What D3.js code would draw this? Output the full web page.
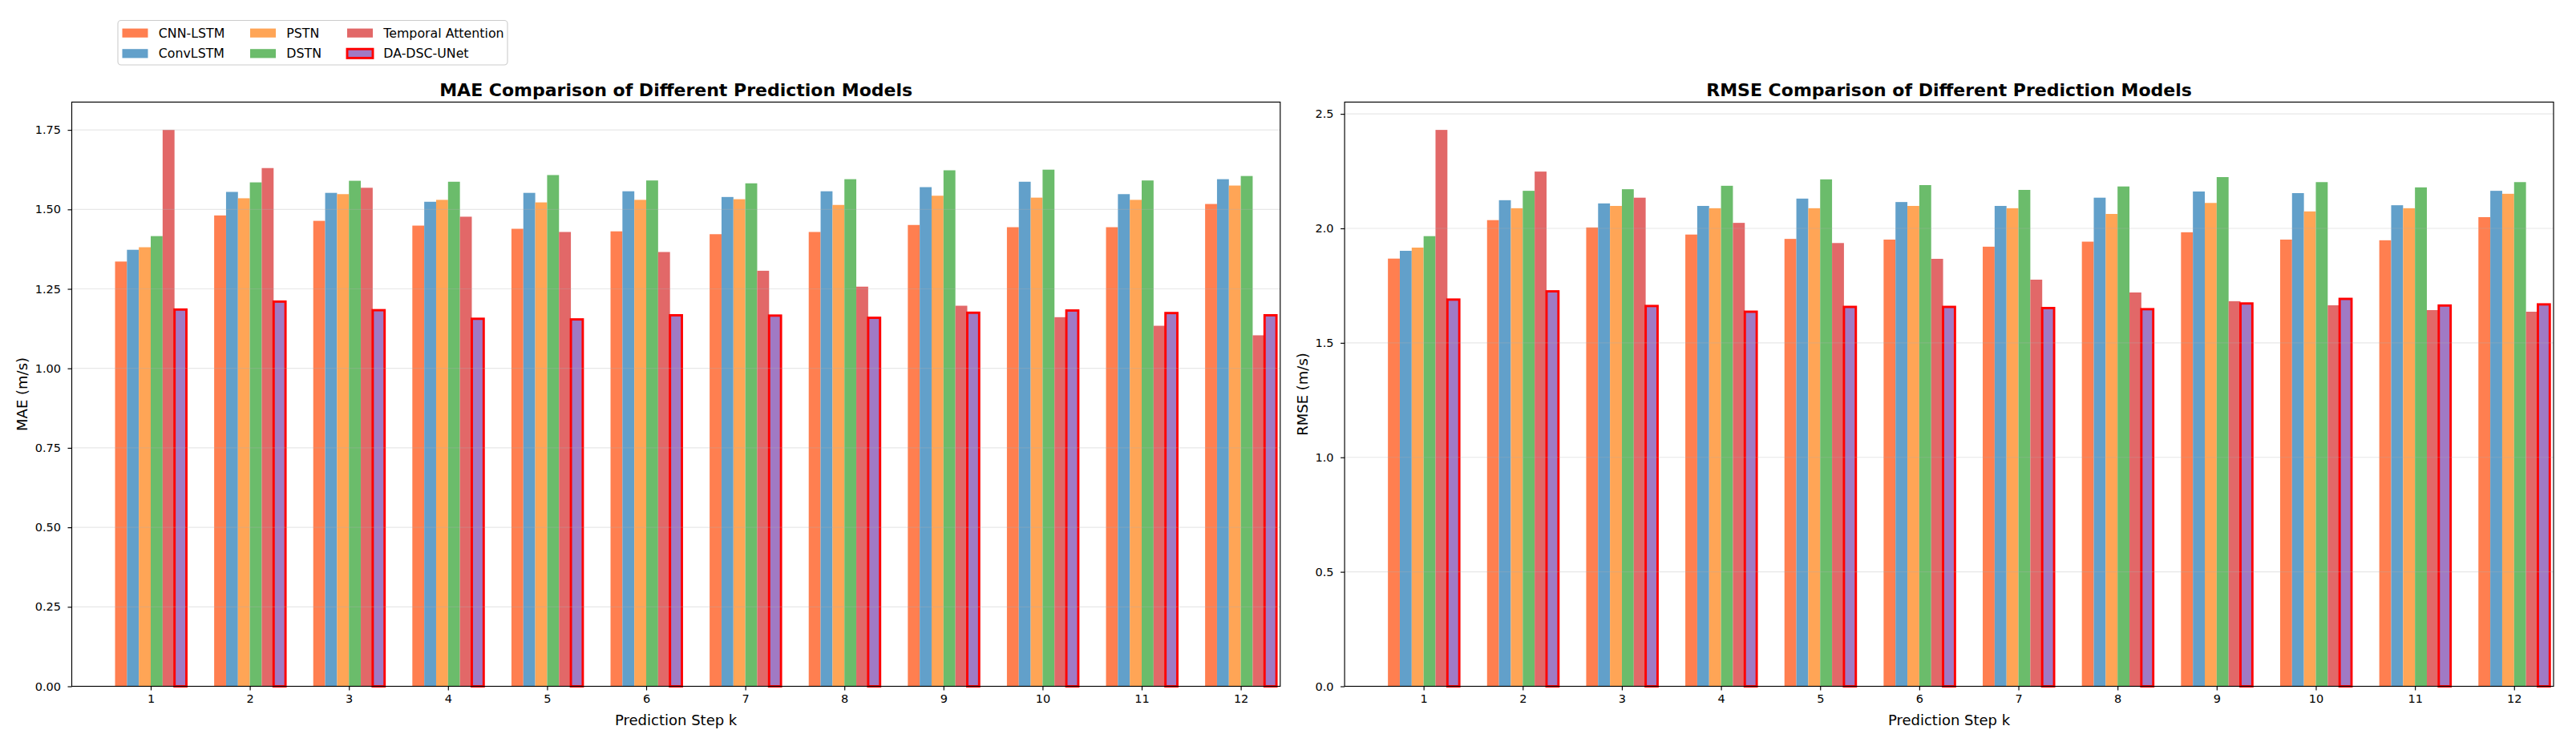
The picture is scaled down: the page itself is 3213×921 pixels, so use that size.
<!DOCTYPE html>
<html>
<head>
<meta charset="utf-8">
<script src="https://cdn.jsdelivr.net/npm/d3@7"></script>
<style>
  html, body { margin: 0; padding: 0; background: #ffffff; }
  svg { display: block; font-family: "DejaVu Sans", sans-serif; }
</style>
</head>
<body>
<svg id="chart" width="3213" height="921"></svg>
<script>
// ---------- data ----------
const steps = [1, 2, 3, 4, 5, 6, 7, 8, 9, 10, 11, 12];
const models = ["CNN-LSTM", "ConvLSTM", "PSTN", "DSTN", "Temporal Attention", "DA-DSC-UNet"];
const modelColors = ["#ff7f50", "#62a0ca", "#ffa556", "#6bbc6b", "#e26868", "#a07ac4"];

const maeCNNLSTM  = [1.336, 1.481, 1.464, 1.449, 1.439, 1.431, 1.422, 1.429, 1.451, 1.444, 1.444, 1.517];
const maeConvLSTM = [1.373, 1.555, 1.552, 1.524, 1.552, 1.557, 1.539, 1.557, 1.570, 1.587, 1.548, 1.595];
const maePSTN     = [1.381, 1.535, 1.548, 1.530, 1.522, 1.530, 1.532, 1.514, 1.543, 1.537, 1.530, 1.575];
const maeDSTN     = [1.416, 1.585, 1.590, 1.587, 1.608, 1.591, 1.582, 1.595, 1.623, 1.625, 1.591, 1.605];
const maeTempAtt  = [1.750, 1.630, 1.568, 1.477, 1.429, 1.366, 1.307, 1.257, 1.197, 1.161, 1.134, 1.104];
const maeDADSC    = [1.185, 1.210, 1.183, 1.156, 1.154, 1.167, 1.166, 1.159, 1.175, 1.182, 1.174, 1.167];

const rmseCNNLSTM  = [1.868, 2.036, 2.004, 1.973, 1.954, 1.951, 1.920, 1.942, 1.983, 1.951, 1.948, 2.049];
const rmseConvLSTM = [1.902, 2.123, 2.109, 2.098, 2.130, 2.115, 2.098, 2.134, 2.161, 2.154, 2.101, 2.164];
const rmsePSTN     = [1.916, 2.088, 2.098, 2.088, 2.088, 2.098, 2.088, 2.063, 2.111, 2.074, 2.088, 2.151];
const rmseDSTN     = [1.966, 2.164, 2.171, 2.186, 2.214, 2.189, 2.168, 2.183, 2.224, 2.202, 2.179, 2.202];
const rmseTempAtt  = [2.430, 2.248, 2.134, 2.024, 1.936, 1.867, 1.776, 1.720, 1.682, 1.664, 1.643, 1.636];
const rmseDADSC    = [1.689, 1.725, 1.661, 1.636, 1.657, 1.657, 1.652, 1.647, 1.672, 1.692, 1.663, 1.668];

const maeTicks  = [0, 0.25, 0.5, 0.75, 1.0, 1.25, 1.5, 1.75];
const rmseTicks = [0, 0.5, 1.0, 1.5, 2.0, 2.5];

const maeSeries  = [maeCNNLSTM, maeConvLSTM, maePSTN, maeDSTN, maeTempAtt, maeDADSC];
const rmseSeries = [rmseCNNLSTM, rmseConvLSTM, rmsePSTN, rmseDSTN, rmseTempAtt, rmseDADSC];

// ---------- layout ----------
const svg = d3.select("#chart");
const barW = 0.12;
const panelTop = 127.4, panelBottom = 856.5;
const FONT_TICK = 14.5, FONT_LABEL = 18, FONT_TITLE = 22, FONT_LEGEND = 15.8;

function drawPanel(cfg) {
  const { left, right, series, ticks, fmt, title, ylabel, ylabelX } = cfg;
  const x = d3.scaleLinear().domain([0.203, 12.398]).range([left, right]);
  const ymax = d3.max(series.flat()) * 1.05;
  const y = d3.scaleLinear().domain([0, ymax]).range([panelBottom, panelTop]);
  const g = svg.append("g");
  const bw = x(barW) - x(0);

  // bars
  series.forEach((vals, i) => {
    const isOurs = i === models.length - 1;
    g.append("g").selectAll("rect").data(steps.map((s, k) => ({ s, v: vals[k] })))
      .join("rect")
      .attr("x", d => x(d.s + (i - 2.5) * barW) - bw / 2)
      .attr("y", d => y(d.v))
      .attr("width", bw)
      .attr("height", d => y(0) - y(d.v))
      .attr("fill", modelColors[i])
      .attr("stroke", isOurs ? "#ff0000" : "none")
      .attr("stroke-width", isOurs ? 2.9 : 0);
  });

  // grid (drawn over bars, light)
  g.append("g").selectAll("line").data(ticks).join("line")
    .attr("x1", left).attr("x2", right)
    .attr("y1", d => y(d)).attr("y2", d => y(d))
    .attr("stroke", "#b0b0b0").attr("stroke-opacity", 0.3).attr("stroke-width", 1.2);

  // axes
  const xAxis = d3.axisBottom(x).tickValues(steps).tickFormat(d3.format("d")).tickSizeOuter(0).tickSize(5).tickPadding(5);
  const gx = g.append("g").attr("transform", `translate(0,${panelBottom})`).call(xAxis);
  gx.select(".domain").remove();
  gx.selectAll("text").attr("font-size", FONT_TICK).attr("font-family", "DejaVu Sans").attr("fill", "#000");
  gx.selectAll("line").attr("stroke", "#000").attr("stroke-width", 1.16);

  const yAxis = d3.axisLeft(y).tickValues(ticks).tickFormat(d3.format(fmt)).tickSizeOuter(0).tickSize(5).tickPadding(8.5);
  const gy = g.append("g").attr("transform", `translate(${left},0)`).call(yAxis);
  gy.select(".domain").remove();
  gy.selectAll("text").attr("font-size", FONT_TICK).attr("font-family", "DejaVu Sans").attr("fill", "#000");
  gy.selectAll("line").attr("stroke", "#000").attr("stroke-width", 1.16);

  // frame
  g.append("rect").attr("x", left).attr("y", panelTop)
    .attr("width", right - left).attr("height", panelBottom - panelTop)
    .attr("fill", "none").attr("stroke", "#000").attr("stroke-width", 1.16);

  // title and labels
  g.append("text").attr("x", (left + right) / 2).attr("y", 119.5)
    .attr("text-anchor", "middle").attr("font-size", FONT_TITLE).attr("font-weight", "bold")
    .text(title);
  g.append("text").attr("x", (left + right) / 2).attr("y", 904.5)
    .attr("text-anchor", "middle").attr("font-size", FONT_LABEL)
    .text("Prediction Step k");
  g.append("text")
    .attr("transform", `translate(${ylabelX},${(panelTop + panelBottom) / 2}) rotate(-90)`)
    .attr("text-anchor", "middle").attr("dominant-baseline", "central").attr("font-size", FONT_LABEL)
    .text(ylabel);
}

drawPanel({ left: 89.5, right: 1596.8, series: maeSeries, ticks: maeTicks, fmt: ".2f",
  title: "MAE Comparison of Different Prediction Models", ylabel: "MAE (m/s)", ylabelX: 27 });
drawPanel({ left: 1677.1, right: 3185, series: rmseSeries, ticks: rmseTicks, fmt: ".1f",
  title: "RMSE Comparison of Different Prediction Models", ylabel: "RMSE (m/s)", ylabelX: 1624 });

// ---------- legend ----------
const legend = svg.append("g");
legend.append("rect").attr("x", 147).attr("y", 25.5).attr("width", 486).attr("height", 55.5)
  .attr("rx", 4).attr("fill", "#fff").attr("stroke", "#cccccc").attr("stroke-width", 1.1);
const colX = [152.5, 312, 433];
const rowY = [41.2, 66.8];
models.forEach((m, i) => {
  const col = Math.floor(i / 2), row = i % 2;
  const isOurs = i === models.length - 1;
  legend.append("rect").attr("x", colX[col]).attr("y", rowY[row] - 5.6)
    .attr("width", 32).attr("height", 11.2)
    .attr("fill", modelColors[i])
    .attr("stroke", isOurs ? "#ff0000" : "none").attr("stroke-width", isOurs ? 2.9 : 0);
  legend.append("text").attr("x", colX[col] + 45.3).attr("y", rowY[row])
    .attr("dominant-baseline", "central").attr("font-size", FONT_LEGEND)
    .text(m);
});
</script>
</body>
</html>
